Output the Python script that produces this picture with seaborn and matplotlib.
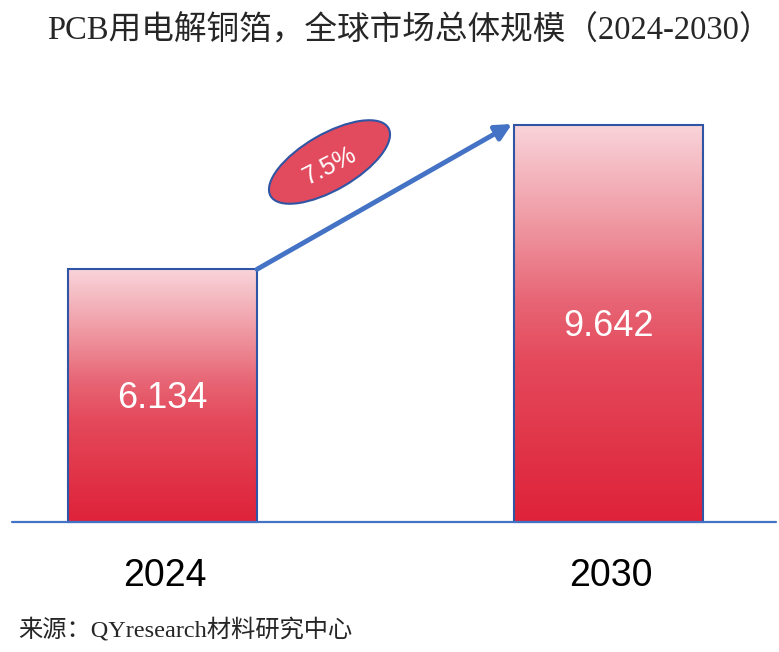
import numpy as np
import pandas as pd
import matplotlib
matplotlib.use("Agg")
import matplotlib.pyplot as plt
import seaborn as sns
import matplotlib.colors as mcolors
from matplotlib.patches import Ellipse
from matplotlib.transforms import IdentityTransform

# data
years = ["2024", "2030"]
values = [6.134, 9.642]
cagr = "7.5%"
title = "PCB用电解铜箔，全球市场总体规模（2024-2030）"
source = "来源：QYresearch材料研究中心"

sns.set_style("white")
plt.rcParams["font.family"] = ["Liberation Sans", "DejaVu Sans"]

blue = "#4472C4"
edge = "#2F55A4"
grad = mcolors.LinearSegmentedColormap.from_list(
    "bar", [(0.0, "#DE2239"), (0.4, "#E4495B"), (0.55, "#E76474"),
            (0.75, "#EF98A2"), (1.0, "#F9D4DA")])

fig = plt.figure(figsize=(7.79, 6.52), dpi=100)
ax = fig.add_axes([0, 0, 1, 1])

df = pd.DataFrame({"year": years, "value": values})
sns.barplot(data=df, x="year", y="value", width=0.424, ax=ax,
            color="white", edgecolor=edge, linewidth=1.5, zorder=3)

# pixel mapping: bar centres at 162.5 / 608.5 px, baseline at 522 px
px_per_x = 446.0
px_per_y = 41.2
xlim = (-162.5 / px_per_x, (779 - 162.5) / px_per_x)
ylim = (-(652 - 522) / px_per_y, 522 / px_per_y)

# gradient fill clipped to each bar
g = np.linspace(0, 1, 256).reshape(-1, 1)
for p in ax.patches:
    x0, y0 = p.get_x(), p.get_y()
    w, h = p.get_width(), p.get_height()
    im = ax.imshow(g, cmap=grad, origin="lower", aspect="auto",
                   extent=[x0, x0 + w, y0, y0 + h], zorder=2)
    im.set_clip_path(p)
    p.set_facecolor("none")

ax.set_xlim(*xlim)
ax.set_ylim(*ylim)
ax.axis("off")

# baseline
ax.axhline(0, xmin=12 / 779, xmax=776 / 779, color=blue, lw=1.6, zorder=4)

# value labels inside bars, year labels below
for i, v in enumerate(values):
    y_px = 399 if i == 0 else 326
    ax.text(i, (522 - y_px) / px_per_y, f"{v:.3f}", color="white",
            fontsize=26, ha="center", va="center", zorder=5)
    ax.text(i + 0.005, (522 - 576) / px_per_y, years[i], color="black",
            fontsize=27, ha="center", va="center")

# growth arrow
ax.annotate("", xy=((512 - 162.5) / px_per_x, (522 - 124) / px_per_y),
            xytext=((257 - 162.5) / px_per_x, values[0]),
            arrowprops=dict(arrowstyle="-|>", color=blue, lw=3.5,
                            mutation_scale=24, shrinkA=0, shrinkB=0),
            zorder=6)

# CAGR bubble
ell = Ellipse((329.5, 652 - 162), 136, 56, angle=30, transform=IdentityTransform(),
              facecolor="#E24A5E", edgecolor=edge, lw=1.5, zorder=7)
ax.add_artist(ell)
fig.text(329.5 / 779, 1 - 166 / 652, cagr, color="white", fontsize=18,
         rotation=27, ha="center", va="center", zorder=8)

# title and source
fig.text(0.5 + 20 / 779, 1 - 31 / 652, title, fontsize=23.5, ha="center", va="center",
         family=["Liberation Serif", "Noto Sans CJK SC"])
fig.text(18 / 779, 1 - 630 / 652, source, fontsize=17.5, ha="left", va="center",
         family=["Liberation Serif", "Noto Sans CJK SC"])

fig.savefig("out.png", dpi=100)
